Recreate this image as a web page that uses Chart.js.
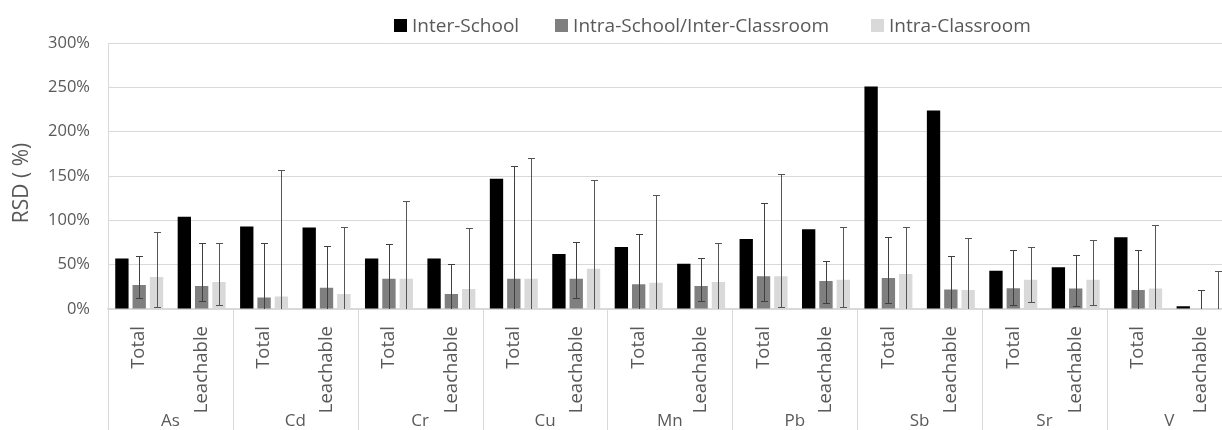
<!DOCTYPE html>
<html>
<head>
<meta charset="utf-8">
<script src="https://cdn.jsdelivr.net/npm/chart.js@4"></script>
<style>
  html, body { margin: 0; padding: 0; background: #fff; overflow: hidden; }
  #wrap { position: relative; width: 1222px; height: 430px; overflow: hidden; }
  #chart { position: absolute; left: 0; top: 0; }
  #legend { position: absolute; left: 394px; top: 13px; height: 24px; display: flex; align-items: center;
            font: 19px "Open Sans"; color: #595959; }
  .item { display: flex; align-items: center; white-space: nowrap; }
  .item:nth-child(1) { margin-right: 36px; }
  .item:nth-child(2) { margin-right: 42px; }
  .swatch { width: 13px; height: 13px; margin-right: 5px; }
</style>
</head>
<body>
<div id="wrap">
  <canvas id="chart" width="1240" height="430"></canvas>
  <div id="legend"></div>
</div>
<script>
const elements = ["As", "Cd", "Cr", "Cu", "Mn", "Pb", "Sb", "Sr", "V"];
const fractions = ["Total", "Leachable"];
const categories = elements.flatMap(() => fractions);

// RSD values (%), order: As Total, As Leachable, Cd Total, ...
const interSchool = [57, 104, 93, 92, 57, 57, 147, 62, 70, 51, 79, 90, 251, 224, 43, 47, 81, 3];
const intraSchool = [27, 26, 13, 24, 34, 17, 34, 34, 28, 26, 37, 31.5, 35, 22, 23.5, 23, 21.5, 0];
const intraClass  = [36, 30.5, 14, 17, 34, 22.5, 34, 45.5, 29.5, 30.5, 37, 33, 39.5, 21.5, 33, 33, 23, 0];

// error bars (+ / -)
const intraSchoolPlus  = [32.5, 49, 62, 47, 39, 33.5, 127, 42, 57, 31.5, 82, 22.5, 46.5, 38, 42.5, 38, 44.5, 21.5];
const intraSchoolMinus = [15, 17, 62, 47, 39, 33.5, 127, 22, 57, 16.5, 28.5, 24.5, 28, 38, 19.5, 20, 44.5, 21.5];
const intraClassPlus   = [51, 44.5, 143, 76, 88, 69, 136, 99.5, 99.5, 44, 115, 60, 53.5, 58.5, 36.5, 44.5, 72, 42.5];
const intraClassMinus  = [34, 26.5, 143, 76, 88, 69, 136, 99.5, 99.5, 44, 34.5, 31, 53.5, 58.5, 25, 29, 72, 42.5];

const yTicks = [0, 50, 100, 150, 200, 250, 300];
const yTitle = "RSD ( %)";

const FONT = "Open Sans";
const TEXT = "#595959";
const GRID = "#d9d9d9";

const errorBars = {
  id: "errorBars",
  afterDatasetsDraw(chart) {
    const { ctx, chartArea, scales: { y } } = chart;
    ctx.save();
    ctx.beginPath();
    ctx.rect(chartArea.left, chartArea.top, chartArea.right - chartArea.left, chartArea.bottom - chartArea.top);
    ctx.clip();
    chart.data.datasets.forEach((ds, i) => {
      if (!ds.errPlus) return;
      ctx.strokeStyle = ds.errColor;
      ctx.lineWidth = 1;
      chart.getDatasetMeta(i).data.forEach((bar, j) => {
        const v = ds.data[j];
        const hi = Math.round(y.getPixelForValue(v + ds.errPlus[j])) + 0.5;
        const lo = Math.round(y.getPixelForValue(v - ds.errMinus[j])) + 0.5;
        const x = Math.round(bar.x) + 0.5;
        ctx.beginPath();
        ctx.moveTo(x, hi); ctx.lineTo(x, lo);
        ctx.moveTo(x - 3.5, hi); ctx.lineTo(x + 3.5, hi);
        ctx.moveTo(x - 3.5, lo); ctx.lineTo(x + 3.5, lo);
        ctx.stroke();
      });
    });
    ctx.restore();
  }
};

// element group labels + separators under the axis, and the y title (Excel puts it a bit below the middle)
const extras = {
  id: "extras",
  afterDraw(chart) {
    const { ctx, chartArea, scales: { x } } = chart;
    const half = (x.getPixelForValue(1) - x.getPixelForValue(0)) / 2;
    ctx.save();
    ctx.strokeStyle = GRID;
    ctx.lineWidth = 1;
    for (let i = 0; i <= categories.length; i += 2) {
      const px = Math.round(x.getPixelForValue(i) - half) + 0.5;
      ctx.beginPath();
      ctx.moveTo(px, chartArea.bottom);
      ctx.lineTo(px, chart.height);
      ctx.stroke();
    }
    ctx.fillStyle = TEXT;
    ctx.font = `17px "${FONT}"`;
    ctx.textAlign = "center";
    ctx.textBaseline = "middle";
    elements.forEach((el, g) => {
      ctx.fillText(el, x.getPixelForValue(2 * g + 0.5), 421);
    });
    ctx.translate(22, (chartArea.top + chartArea.bottom) / 2 + 7);
    ctx.rotate(-Math.PI / 2);
    ctx.font = `21px "${FONT}"`;
    ctx.fillText(yTitle, 0, 0);
    ctx.restore();
  }
};

const chart = new Chart(document.getElementById("chart"), {
  type: "bar",
  data: {
    labels: categories,
    datasets: [
      { label: "Inter-School", data: interSchool, backgroundColor: "#000000" },
      { label: "Intra-School/Inter-Classroom", data: intraSchool, backgroundColor: "#7f7f7f",
        errPlus: intraSchoolPlus, errMinus: intraSchoolMinus, errColor: "#404040" },
      { label: "Intra-Classroom", data: intraClass, backgroundColor: "#d9d9d9",
        errPlus: intraClassPlus, errMinus: intraClassMinus, errColor: "#555555" },
    ],
  },
  options: {
    responsive: false,
    animation: false,
    devicePixelRatio: 1,
    categoryPercentage: 0.832,
    barPercentage: 0.77,
    layout: { padding: { top: 43, right: 8, left: 0, bottom: 0 } },
    plugins: { legend: { display: false }, tooltip: { enabled: false } },
    scales: {
      y: {
        min: 0, max: 300,
        afterBuildTicks: s => { s.ticks = yTicks.map(v => ({ value: v })); },
        afterFit: s => { s.width = 108; },
        grid: { color: GRID, drawTicks: false },
        border: { color: GRID },
        ticks: { padding: 18, color: TEXT, font: { family: FONT, size: 16.5 }, callback: v => v + "%" },
      },
      x: {
        afterFit: s => { s.height = 121; },
        grid: { display: false, drawTicks: false },
        border: { color: GRID, width: 1.5 },
        ticks: { autoSkip: false, minRotation: 90, maxRotation: 90, padding: 17, color: TEXT,
                 font: { family: FONT, size: 18.5 } },
      },
    },
  },
  plugins: [errorBars, extras],
});

const legend = document.getElementById("legend");
chart.data.datasets.forEach(ds => {
  const item = document.createElement("div");
  item.className = "item";
  item.innerHTML = `<span class="swatch" style="background:${ds.backgroundColor}"></span><span>${ds.label}</span>`;
  legend.appendChild(item);
});
</script>
</body>
</html>
